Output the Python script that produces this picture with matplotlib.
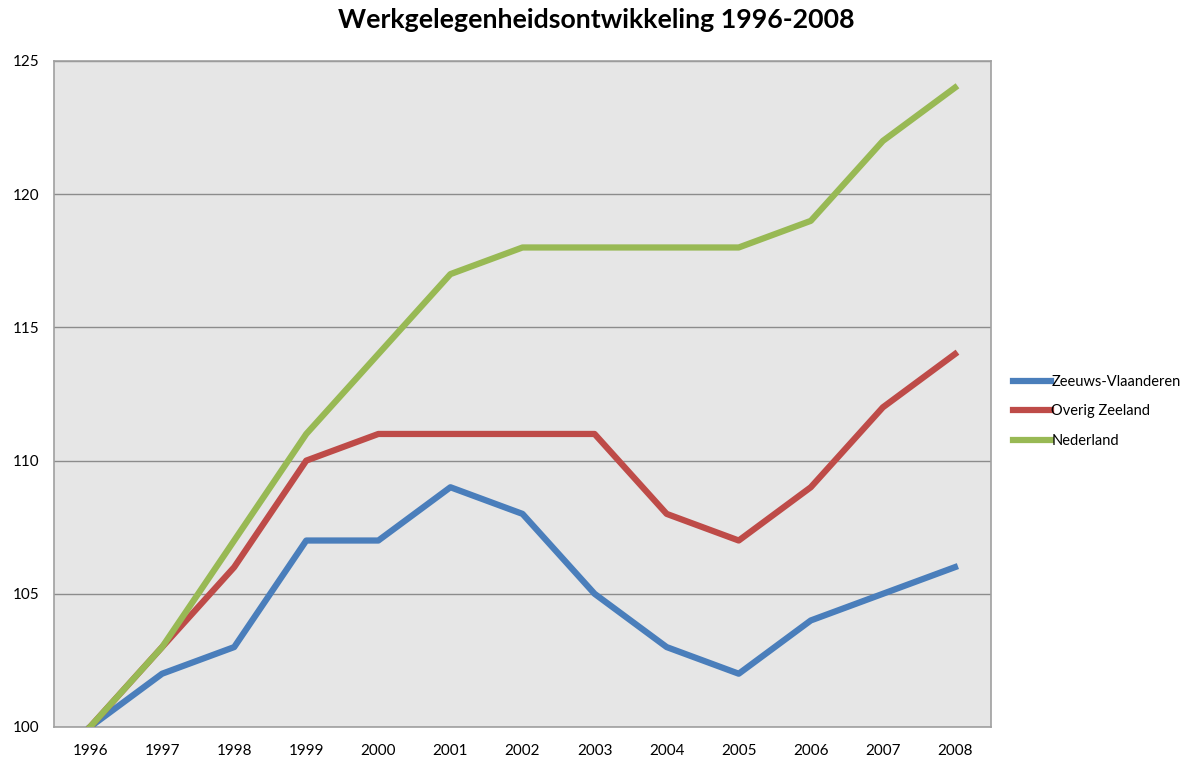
import matplotlib.pyplot as plt

plt.rcParams['font.family'] = ['Lato', 'DejaVu Sans']

years = ['1996', '1997', '1998', '1999', '2000', '2001', '2002',
         '2003', '2004', '2005', '2006', '2007', '2008']
zeeuws_vlaanderen = [100, 102, 103, 107, 107, 109, 108, 105, 103, 102, 104, 105, 106]
overig_zeeland = [100, 103, 106, 110, 111, 111, 111, 111, 108, 107, 109, 112, 114]
nederland = [100, 103, 107, 111, 114, 117, 118, 118, 118, 118, 119, 122, 124]

fig = plt.figure(figsize=(11.92, 7.62), dpi=100)
ax = fig.add_axes([54 / 1192, 1 - 727 / 762, (991 - 54) / 1192, (727 - 61) / 762])
ax.set_facecolor('#E6E6E6')

x = range(len(years))
ax.plot(x, zeeuws_vlaanderen, color='#4A7EBB', lw=4.5, label='Zeeuws-Vlaanderen', zorder=3)
ax.plot(x, overig_zeeland, color='#BE4B48', lw=4.5, label='Overig Zeeland', zorder=3)
ax.plot(x, nederland, color='#98B954', lw=4.5, label='Nederland', zorder=3)

ax.set_xlim(-0.5, len(years) - 0.5)
ax.set_ylim(100, 125)
ax.set_xticks(list(x))
ax.set_xticklabels(years)
ax.set_yticks(range(100, 126, 5))
ax.tick_params(length=0, labelsize=11, colors='black')
ax.tick_params(axis='x', pad=12)
for lab in ax.get_yticklabels():
    lab.set_horizontalalignment('left')
ax.yaxis.set_tick_params(pad=30)

ax.grid(axis='y', color='#8C8C8C', lw=1)
ax.set_axisbelow(True)
for s in ax.spines.values():
    s.set_color('#A0A0A0')
    s.set_linewidth(1.2)

ax.legend(loc='center left', bbox_to_anchor=(1.01, 0.474), frameon=False,
          fontsize=10.5, handlelength=2.6, handletextpad=0.0, labelspacing=1.05)

fig.suptitle('Werkgelegenheidsontwikkeling 1996-2008', x=0.5, y=0.99,
             fontsize=19.3, fontweight='bold')

fig.savefig('out.png', dpi=100)
